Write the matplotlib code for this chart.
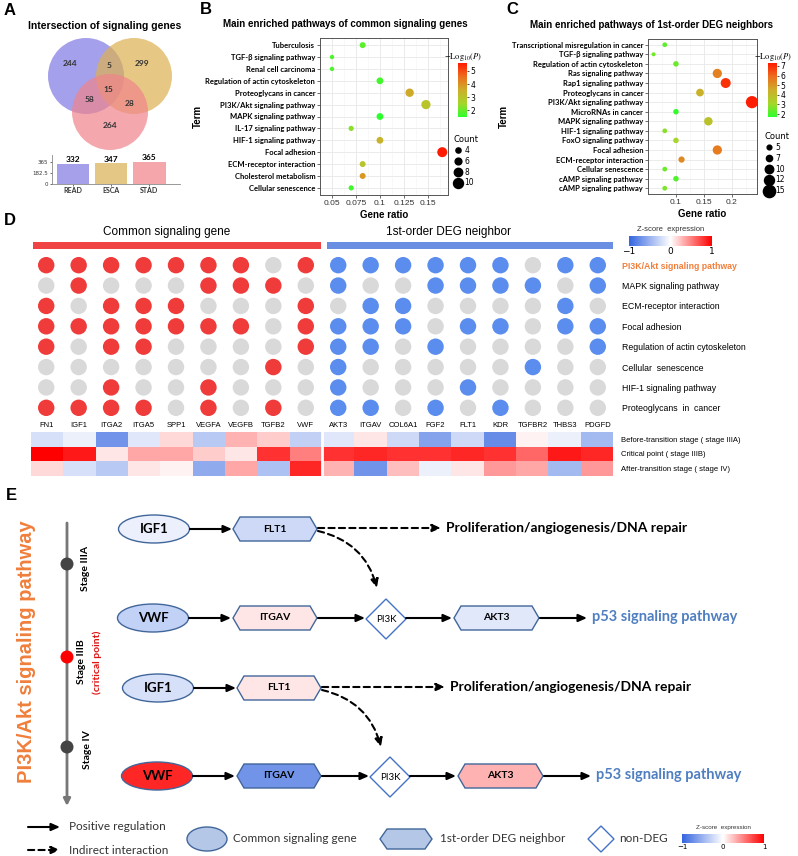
import numpy as np
import matplotlib
matplotlib.use("Agg")
import matplotlib.pyplot as plt
from matplotlib.patches import Circle, Ellipse, Polygon, Rectangle
from matplotlib.colors import LinearSegmentedColormap, Normalize
from matplotlib.lines import Line2D

W, H = 798, 856

# ---- A: venn + set sizes
venn_sets = ["READ", "ESCA", "STAD"]
set_sizes = [332, 347, 365]
venn_only = [244, 299, 264]      # READ, ESCA, STAD only
venn_pairs = [5, 58, 28]         # READ&ESCA, READ&STAD, ESCA&STAD
venn_all = 15

# ---- B: enrichment of common signaling genes
b_terms = ["Tuberculosis", "TGF-β signaling pathway", "Renal cell carcinoma",
           "Regulation of actin cytoskeleton", "Proteoglycans in cancer",
           "PI3K/Akt signaling pathway", "MAPK signaling pathway",
           "IL-17 signaling pathway", "HIF-1 signaling pathway", "Focal adhesion",
           "ECM-receptor interaction", "Cholesterol metabolism", "Cellular senescence"]
b_ratio = [0.082, 0.05, 0.05, 0.10, 0.131, 0.148, 0.10, 0.07, 0.10, 0.165, 0.082, 0.082, 0.07]
b_logp = [1.9, 1.8, 1.8, 1.7, 3.6, 3.0, 1.5, 2.3, 3.4, 5.6, 3.0, 3.9, 1.7]
b_count = [5, 3, 3, 6, 8, 9, 6, 4, 6, 10, 5, 5, 4]

# ---- C: enrichment of 1st-order DEG neighbors
c_terms = ["Transcriptional misregulation in cancer", "TGF-β signaling pathway",
           "Regulation of actin cytoskeleton", "Ras signaling pathway",
           "Rap1 signaling pathway", "Proteoglycans in cancer",
           "PI3K/Akt signaling pathway", "MicroRNAs in cancer", "MAPK signaling pathway",
           "HIF-1 signaling pathway", "FoxO signaling pathway", "Focal adhesion",
           "ECM-receptor interaction", "Cellular senescence", "cAMP signaling pathway",
           "cAMP signaling pathway"]
c_ratio = [0.08, 0.06, 0.10, 0.174, 0.189, 0.143, 0.236, 0.10, 0.158, 0.08, 0.10, 0.174,
           0.11, 0.08, 0.10, 0.08]
c_logp = [2.3, 2.5, 2.4, 5.5, 6.9, 4.4, 7.2, 1.8, 3.8, 2.8, 3.1, 5.6, 5.3, 2.4, 2.1, 2.6]
c_count = [5, 4, 6, 11, 12, 9, 15, 6, 10, 5, 6, 11, 7, 5, 6, 5]

# ---- D: pathway membership + stage z-scores
common_genes = ["FN1", "IGF1", "ITGA2", "ITGA5", "SPP1", "VEGFA", "VEGFB", "TGFB2", "VWF"]
deg_genes = ["AKT3", "ITGAV", "COL6A1", "FGF2", "FLT1", "KDR", "TGFBR2", "THBS3", "PDGFD"]
pathways = ["PI3K/Akt signaling pathway", "MAPK signaling pathway",
            "ECM-receptor interaction", "Focal adhesion",
            "Regulation of actin cytoskeleton", "Cellular  senescence",
            "HIF-1 signaling pathway", "Proteoglycans  in  cancer"]
common_member = [[1, 1, 1, 1, 1, 1, 1, 0, 1],
                 [0, 1, 0, 0, 0, 1, 1, 1, 0],
                 [1, 0, 1, 1, 1, 0, 0, 0, 1],
                 [1, 1, 1, 1, 1, 1, 1, 0, 1],
                 [1, 0, 1, 1, 0, 0, 0, 0, 1],
                 [0, 0, 0, 0, 0, 0, 0, 1, 0],
                 [0, 0, 1, 0, 0, 1, 0, 0, 0],
                 [1, 1, 1, 1, 0, 1, 0, 1, 0]]
deg_member = [[1, 1, 1, 1, 1, 1, 0, 1, 1],
              [1, 0, 0, 1, 1, 1, 1, 0, 1],
              [0, 1, 1, 0, 0, 0, 0, 1, 0],
              [1, 1, 1, 0, 1, 1, 0, 1, 1],
              [1, 1, 0, 1, 0, 0, 0, 0, 1],
              [1, 0, 0, 0, 0, 0, 1, 0, 0],
              [1, 0, 0, 0, 1, 0, 0, 0, 0],
              [1, 1, 0, 1, 0, 1, 0, 0, 0]]
stages = ["Before-transition stage ( stage IIIA)", "Critical point ( stage IIIB)",
          "After-transition stage ( stage IV)"]
zscore_common = [[-0.2, -0.1, -0.7, -0.15, 0.15, -0.35, 0.3, 0.2, -0.3],
                 [1.0, 0.9, 0.1, 0.35, 0.35, 0.2, 0.1, 0.8, 0.5],
                 [0.15, -0.2, -0.35, 0.1, 0.05, -0.55, 0.35, -0.4, 0.85]]
zscore_deg = [[-0.15, 0.1, -0.25, -0.6, -0.25, -0.75, 0.05, -0.1, -0.45],
              [0.8, 0.85, 0.8, 0.8, 0.85, 0.8, 0.6, 0.9, 0.85],
              [0.3, -0.7, 0.25, -0.1, 0.1, 0.4, 0.35, -0.45, 0.4]]

SANS = "Liberation Sans"
CAL = "Lato"

fig = plt.figure(figsize=(W / 100, H / 100), dpi=100)
bg = fig.add_axes([0, 0, 1, 1])
bg.set_xlim(0, W)
bg.set_ylim(H, 0)
bg.axis("off")


def box(x0, y0, x1, y1):
    return fig.add_axes([x0 / W, 1 - y1 / H, (x1 - x0) / W, (y1 - y0) / H])


for lab, (x, y) in {"A": (10, 10), "B": (206, 9), "C": (512, 9),
                    "D": (10, 220), "E": (11, 495)}.items():
    bg.text(x, y, lab, fontsize=12, weight="bold", family=SANS, ha="center", va="center")

# ================= A =================
bg.text(105, 26, "Intersection of signaling genes", fontsize=7.5, weight="bold",
        family=SANS, ha="center", va="center")
for (cx, cy), col in zip([(86, 76), (134, 76), (110, 112)], ["#7F78E3", "#DDB050", "#F0848C"]):
    bg.add_patch(Circle((cx, cy), 38, fc=col, ec="none", alpha=0.7))
venn_pos = [(70, 63), (142, 63), (110, 125), (109, 65), (89, 99), (130, 103), (108, 89)]
for (x, y), v in zip(venn_pos, venn_only + venn_pairs + [venn_all]):
    bg.text(x, y, str(v), fontsize=6, weight="bold", family=CAL, color="#333333",
            ha="center", va="center")

axa = box(52, 155, 180, 184)
bars = axa.bar(range(3), set_sizes, width=0.85, color=["#A6A0EA", "#E4C685", "#F5A6AB"])
axa.set_xlim(-0.55, 2.8)
axa.set_ylim(0, 480)
axa.set_yticks([0, 182.5, 365])
axa.set_yticklabels(["0", "182.5", "365"], fontsize=4)
axa.set_xticks(range(3))
axa.set_xticklabels(venn_sets, fontsize=5, weight="bold", family=CAL)
for i, v in enumerate(set_sizes):
    axa.text(i, v + 8, str(v), ha="center", va="bottom", fontsize=6, weight="bold", family=CAL)
for s in ["top", "right"]:
    axa.spines[s].set_visible(False)
for s in ["left", "bottom"]:
    axa.spines[s].set_color("#888888")
    axa.spines[s].set_linewidth(0.6)
axa.tick_params(length=1.5, width=0.5, pad=1, colors="#333333")

# ================= B & C =================
gg_cmap = LinearSegmentedColormap.from_list(
    "gg", ["#2BFF2B", "#A6D62A", "#CDAE2A", "#EC6E1E", "#FF1A00"])


def dotplot(rect, terms, ratio, logp, count, xlim, xticks, xticklabels, vmin, vmax,
            dsize, cb_rect, cb_ticks, leg_counts, leg_xy, title, tx):
    ax = box(*rect)
    n = len(terms)
    ypos = np.arange(n)
    sizes = [(dsize(c) * 0.72) ** 2 for c in count]
    sc = ax.scatter(ratio, ypos, s=sizes, c=logp, cmap=gg_cmap, vmin=vmin, vmax=vmax,
                    zorder=3, edgecolors="none")
    ax.set_xlim(*xlim)
    ax.set_ylim(n - 0.4, -0.6)
    ax.set_yticks(ypos)
    ax.set_yticklabels(terms, fontsize=5.5, weight="bold", family=CAL)
    ax.set_xticks(xticks)
    ax.set_xticklabels(xticklabels, fontsize=6, family=SANS, color="#333333")
    mids = (np.array(xticks[:-1]) + np.array(xticks[1:])) / 2
    ax.set_xticks(list(mids) + [xticks[0] - (xticks[1] - xticks[0]) / 2,
                                xticks[-1] + (xticks[1] - xticks[0]) / 2], minor=True)
    ax.grid(True, which="major", color="#EBEBEB", lw=0.7)
    ax.grid(True, which="minor", axis="x", color="#F3F3F3", lw=0.4)
    ax.set_axisbelow(True)
    for s in ax.spines.values():
        s.set_color("#555555")
        s.set_linewidth(0.7)
    ax.tick_params(which="major", length=2, width=0.5, color="#333333", pad=1.5)
    ax.tick_params(which="minor", length=0)
    ax.set_xlabel("Gene ratio", fontsize=7, weight="bold", family=SANS, labelpad=2)
    ax.set_ylabel("Term", fontsize=7, weight="bold", family=SANS, labelpad=2)
    ax.set_title(title, fontsize=7, weight="bold", family=SANS, pad=8, x=tx)
    cax = box(*cb_rect)
    cb = fig.colorbar(sc, cax=cax)
    cb.set_ticks(cb_ticks)
    cb.ax.tick_params(labelsize=5.5, length=1.5, width=0.5, pad=1)
    cb.outline.set_visible(False)
    cax.set_title(r"$-\mathrm{Log}_{10}(P)$", fontsize=6, math_fontfamily="stix", pad=3)
    handles = [Line2D([], [], marker="o", ls="", color="black", markersize=dsize(c) * 0.72)
               for c in leg_counts]
    ax.legend(handles, [str(c) for c in leg_counts], title="Count", fontsize=5.5,
              title_fontsize=6, frameon=False, loc="upper left",
              bbox_to_anchor=(leg_xy[0] / W, 1 - leg_xy[1] / H),
              bbox_transform=fig.transFigure, handletextpad=0.2, labelspacing=0.25,
              borderpad=0, handlelength=1.2, alignment="left")
    return ax


dotplot((320, 38, 448, 195), b_terms, b_ratio, b_logp, b_count, (0.043, 0.171),
        [0.05, 0.075, 0.1, 0.125, 0.15], ["0.05", "0.075", "0.1", "0.125", "0.15"],
        1.5, 5.6, lambda c: 2 + 0.8 * c, (458, 63, 467, 117), [2, 3, 4, 5],
        [4, 6, 8, 10], (450, 131), "Main enriched pathways of common signaling genes", 0.2)
dotplot((648, 39, 757, 194), c_terms, c_ratio, c_logp, c_count, (0.05, 0.245),
        [0.1, 0.15, 0.2], ["0.1", "0.15", "0.2"],
        1.7, 7.3, lambda c: 1 + 0.75 * c, (768, 63, 777, 117), [2, 3, 4, 5, 6, 7],
        [5, 7, 10, 12, 15], (761, 128), "Main enriched pathways of 1st-order DEG neighbors", 0.03)

# ================= D =================
zcmap = LinearSegmentedColormap.from_list("z", ["#3566E0", "#FFFFFF", "#FF0000"])
znorm = Normalize(-1, 1)

bg.text(167, 232, "Common signaling gene", fontsize=8.5, family=SANS, ha="center", va="center")
bg.text(448, 232, "1st-order DEG neighbor", fontsize=8.5, family=SANS, ha="center", va="center")
bg.add_patch(Rectangle((33, 242), 288, 7, fc="#F04343", ec="none"))
bg.add_patch(Rectangle((327, 242), 286, 7, fc="#6A8FE2", ec="none"))

axd = box(30, 255, 614, 418)
genes = common_genes + deg_genes
member = np.hstack([np.array(common_member), np.array(deg_member)])
for r in range(len(pathways)):
    for g in range(len(genes)):
        if member[r, g]:
            col = "#F03B3B" if g < len(common_genes) else "#5B8DEE"
        else:
            col = "#D9D9D9"
        axd.scatter(g, r, s=140, color=col, edgecolors="none")
axd.set_xlim(-0.5, len(genes) - 0.5)
axd.set_ylim(len(pathways) - 0.5, -0.5)
axd.set_xticks(range(len(genes)))
axd.set_xticklabels(genes, fontsize=5.5, family=SANS)
axd.yaxis.tick_right()
axd.set_yticks(range(len(pathways)))
axd.set_yticklabels(pathways, fontsize=6.3, family=SANS)
lbl = axd.get_yticklabels()[0]
lbl.set_color("#F07F3C")
lbl.set_weight("bold")
axd.tick_params(length=0, pad=3)
axd.tick_params(axis="y", pad=6)
for s in axd.spines.values():
    s.set_visible(False)

axh = box(31, 432, 613, 476)
zall = np.hstack([np.array(zscore_common), np.array(zscore_deg)])
axh.imshow(zall, cmap=zcmap, norm=znorm, aspect="auto", interpolation="nearest")
axh.axvline(len(common_genes) - 0.5, color="white", lw=2)
axh.set_xticks([])
axh.yaxis.tick_right()
axh.set_yticks(range(len(stages)))
axh.set_yticklabels(stages, fontsize=5.5, family=SANS)
axh.tick_params(length=0, pad=6)
for s in axh.spines.values():
    s.set_visible(False)


def zbar(rect, fs_t, fs_l, ty):
    cax = box(*rect)
    sm = plt.cm.ScalarMappable(norm=znorm, cmap=zcmap)
    cb = fig.colorbar(sm, cax=cax, orientation="horizontal")
    cb.set_ticks([-1, 0, 1])
    cb.set_ticklabels(["−1", "0", "1"])
    cb.outline.set_visible(False)
    cb.ax.tick_params(labelsize=fs_l, length=0, pad=1)
    bg.text((rect[0] + rect[2]) / 2, ty, "Z-score  expression", fontsize=fs_t,
            family=SANS, ha="center", va="center", color="#333333")


zbar((629, 236, 712, 246), 5.5, 6.5, 229)

# ================= E =================
def zval(gene, stage):
    return zall[stage, genes.index(gene)]


def zc(gene, stage):
    return zcmap(znorm(zval(gene, stage)))


bg.text(27, 652, "PI3K/Akt signaling pathway", fontsize=14.5, color="#F07F3C", family=SANS,
        weight="bold", rotation=90, ha="center", va="center")
bg.annotate("", xy=(67, 806), xytext=(67, 523),
            arrowprops=dict(arrowstyle="-|>", lw=2, color="#777777", shrinkA=0, shrinkB=0,
                            mutation_scale=10))
for y, c in [(564, "#444444"), (657, "#FF0000"), (747, "#444444")]:
    bg.add_patch(Circle((67, y), 6.5, fc=c, ec="none", zorder=3))
bg.text(86, 568, "Stage IIIA", rotation=90, fontsize=7.5, weight="bold", family=CAL,
        ha="center", va="center")
bg.text(81, 662, "Stage IIIB", rotation=90, fontsize=7.5, weight="bold", family=CAL,
        ha="center", va="center")
bg.text(97, 662, "(critical point)", rotation=90, fontsize=7.5, weight="bold", family=CAL,
        color="#E01010", ha="center", va="center")
bg.text(87, 750, "Stage IV", rotation=90, fontsize=7.5, weight="bold", family=CAL,
        ha="center", va="center")

EDGE = "#41669A"


def ellipse(xc, yc, fc, label, w=71, h=28, fs=9.5):
    bg.add_patch(Ellipse((xc, yc), w, h, fc=fc, ec=EDGE, lw=1))
    if label:
        bg.text(xc, yc, label, fontsize=fs, weight="bold", family=CAL, ha="center", va="center")


def hexagon(x0, x1, yc, fc, label, h=24, t=7, fs=7.5):
    pts = [(x0, yc), (x0 + t, yc - h / 2), (x1 - t, yc - h / 2), (x1, yc),
           (x1 - t, yc + h / 2), (x0 + t, yc + h / 2)]
    bg.add_patch(Polygon(pts, closed=True, fc=fc, ec=EDGE, lw=1))
    if label:
        bg.text((x0 + x1) / 2, yc, label, fontsize=fs, weight="bold", family=CAL,
                ha="center", va="center")


def diamond(xc, yc, r=20, label="PI3K"):
    pts = [(xc - r, yc), (xc, yc - r), (xc + r, yc), (xc, yc + r)]
    bg.add_patch(Polygon(pts, closed=True, fc="white", ec="#4472C4", lw=1))
    if label:
        bg.text(xc, yc + 1, label, fontsize=7, family=CAL, ha="center", va="center")


def arrow(x0, y0, x1, y1, dashed=False, rad=0.0, lw=1.5):
    bg.annotate("", xy=(x1, y1), xytext=(x0, y0),
                arrowprops=dict(arrowstyle="-|>,head_length=0.5,head_width=0.22", lw=lw,
                                color="black", linestyle=(0, (3, 2)) if dashed else "-",
                                shrinkA=0, shrinkB=0, mutation_scale=10,
                                connectionstyle=f"arc3,rad={rad}"))


def row_igf(dx, yc, stage):
    ellipse(154 + dx, yc, zc("IGF1", stage), "IGF1")
    arrow(190 + dx, yc, 232 + dx, yc)
    hexagon(233 + dx, 317 + dx, yc, zc("FLT1", stage), "FLT1")
    arrow(318 + dx, yc - 1, 441 + dx, yc - 1, dashed=True)
    bg.text(446 + dx, yc - 1, "Proliferation/angiogenesis/DNA repair", fontsize=10,
            weight="bold", family=CAL, ha="left", va="center")
    arrow(318 + dx, yc + 2, 377 + dx, yc + 59, dashed=True, rad=-0.3)


def row_vwf(dx, yc, stage):
    ellipse(153 + dx, yc, zc("VWF", stage), "VWF")
    arrow(189 + dx, yc, 231 + dx, yc)
    hexagon(233 + dx, 317 + dx, yc, zc("ITGAV", stage), "ITGAV")
    arrow(318 + dx, yc, 365 + dx, yc)
    diamond(386 + dx, yc + 1)
    arrow(406 + dx, yc, 452 + dx, yc)
    hexagon(454 + dx, 539 + dx, yc, zc("AKT3", stage), "AKT3")
    arrow(540 + dx, yc, 587 + dx, yc)
    bg.text(592 + dx, yc - 1, "p53 signaling pathway", fontsize=10.5, weight="bold",
            family=CAL, color="#4F7FC0", ha="left", va="center")


row_igf(0, 529, 0)
row_vwf(0, 618, 0)
row_igf(4, 688, 2)
row_vwf(4, 776, 2)

# legend of E
arrow(28, 827, 60, 827)
arrow(28, 850, 60, 850, dashed=True)
bg.text(69, 827, "Positive regulation", fontsize=8.5, family=CAL, color="#333333", va="center")
bg.text(69, 850, "Indirect interaction", fontsize=8.5, family=CAL, color="#333333", va="center")
ellipse(207, 839, "#B4C7E7", None, w=40, h=24)
bg.text(233, 839, "Common signaling gene", fontsize=8.5, family=CAL, color="#333333", va="center")
hexagon(380, 432, 839, "#B4C7E7", None, h=20)
bg.text(440, 839, "1st-order DEG neighbor", fontsize=8.5, family=CAL, color="#333333", va="center")
diamond(601, 839, r=13, label=None)
bg.text(619, 838, "non-DEG", fontsize=8.5, family=CAL, color="#333333", va="center")
zbar((682, 834, 764, 843), 4.5, 5, 828)

fig.savefig("out.png", dpi=100)
